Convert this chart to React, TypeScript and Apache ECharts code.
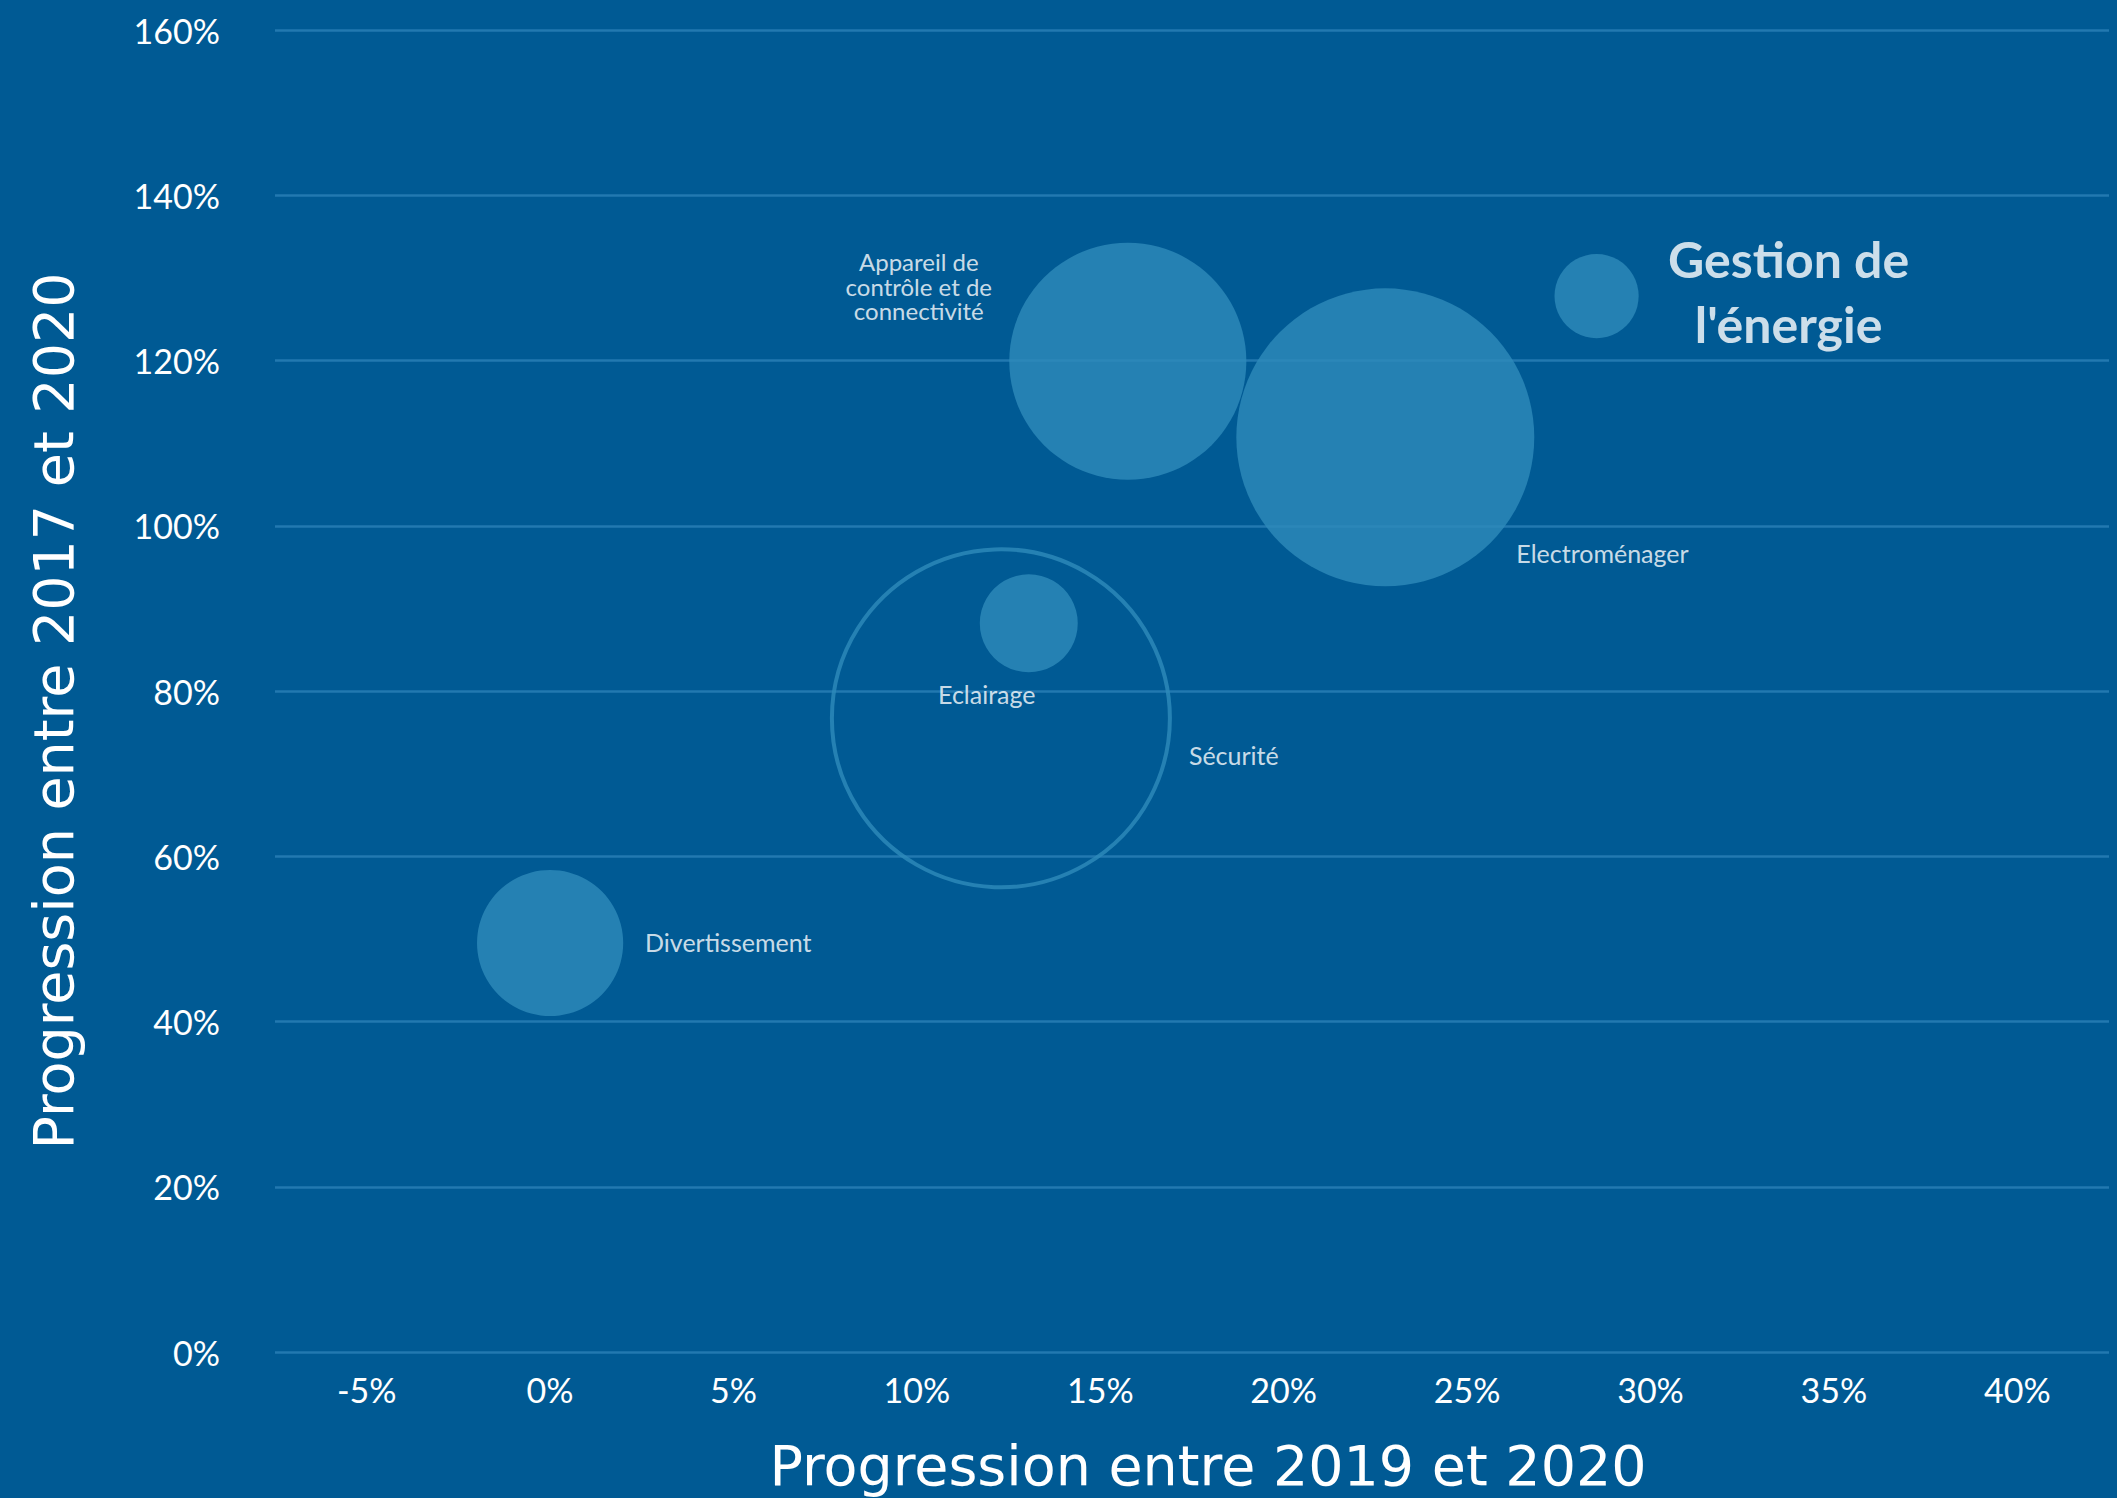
import React, { useEffect, useRef } from "react";
import * as echarts from "echarts";

// ---- Data ----
const categories = [
  "Divertissement",
  "Eclairage",
  "Sécurité",
  "Appareil de contrôle et de connectivité",
  "Electroménager",
  "Gestion de l'énergie",
];
// Progression entre 2019 et 2020 (x)
const growth2019to2020 = [0.0, 0.1305, 0.1229, 0.1575, 0.2277, 0.2853];
// Progression entre 2017 et 2020 (y)
const growth2017to2020 = [0.495, 0.882, 0.767, 1.199, 1.107, 1.278];
// Bubble size (relative market weight)
const bubbleSizes = [18.7, 8.4, 100, 49.2, 77.7, 6.2];
// Label texts as displayed
const labelTexts = [
  "Divertissement",
  "Eclairage",
  "Sécurité",
  "Appareil de\ncontrôle et de\nconnectivité",
  "Electroménager",
  "Gestion de\nl'énergie",
];
const xAxisTitle = "Progression entre 2019 et 2020";
const yAxisTitle = "Progression entre 2017 et 2020";

// ---- Styles ----
const BG = "#005A94";
const BUBBLE = "#2E8BBA";
const GRID = "#2279B0";
const MAX_R = 169;
const FONT = "Lato";

const labelStyles: any[] = [
  { align: "left", offset: [95, -1] },
  { align: "center", offset: [-42, 71] },
  { align: "left", offset: [188, 37] },
  { align: "center", offset: [-209, -75], fontSize: 24, lineHeight: 24.5 },
  { align: "left", offset: [131, 116] },
  { align: "center", offset: [192, -5], fontSize: 50, fontWeight: "bold", lineHeight: 65 },
];

export default function App() {
  const ref = useRef<HTMLDivElement>(null);

  useEffect(() => {
    document.body.style.margin = "0";
    document.body.style.background = BG;
    document.documentElement.style.background = BG;
    const chart = echarts.init(ref.current!, null, { renderer: "svg" });
    const maxSize = Math.max(...bubbleSizes);

    const data = categories.map((name, i) => {
      const hollow = name === "Sécurité";
      const ls = labelStyles[i];
      return {
        name,
        value: [growth2019to2020[i], growth2017to2020[i], bubbleSizes[i]],
        itemStyle: hollow
          ? { color: "rgba(0,0,0,0)", borderColor: BUBBLE, borderWidth: 4 }
          : { color: BUBBLE, borderWidth: 0 },
        label: {
          show: true,
          position: "inside",
          formatter: labelTexts[i],
          color: "#FFFFFF",
          fontFamily: FONT,
          fontSize: ls.fontSize ?? 25,
          fontWeight: ls.fontWeight ?? "normal",
          lineHeight: ls.lineHeight ?? 30,
          align: ls.align,
          verticalAlign: "middle",
          offset: ls.offset,
        },
      };
    });

    chart.setOption({
      animation: false,
      backgroundColor: BG,
      grid: { left: 275, right: 8, top: 30, bottom: 123, containLabel: false },
      xAxis: {
        type: "value",
        min: -0.075,
        max: 0.425,
        interval: 0.025,
        axisLine: { show: false },
        axisTick: { show: false },
        splitLine: { show: false },
        axisLabel: {
          color: "#FFFFFF",
          fontFamily: FONT,
          fontSize: 34,
          margin: 20,
          showMinLabel: true,
          showMaxLabel: true,
          formatter: (v: number) => {
            const p = Math.round(v * 1000) / 10;
            return Math.abs(p % 5) < 1e-6 ? `${p}%` : "";
          },
        },
        name: xAxisTitle,
        nameLocation: "middle",
        nameGap: 85,
        nameTextStyle: {
          color: "#FFFFFF",
          fontFamily: "DejaVu Sans",
          fontSize: 55.5,
          padding: [0, 0, 0, 32],
        },
      },
      yAxis: {
        type: "value",
        min: 0,
        max: 1.6,
        interval: 0.2,
        axisLine: { show: false },
        axisTick: { show: false },
        splitLine: { show: true, lineStyle: { color: GRID, width: 2.5 } },
        axisLabel: {
          color: "#FFFFFF",
          fontFamily: FONT,
          fontSize: 34,
          margin: 55,
          formatter: (v: number) => `${Math.round(v * 100)}%`,
        },
        name: yAxisTitle,
        nameLocation: "middle",
        nameGap: 194,
        nameTextStyle: {
          color: "#FFFFFF",
          fontFamily: "DejaVu Sans",
          fontSize: 55.5,
          padding: [0, 40, 0, 0],
        },
      },
      series: [
        {
          type: "scatter",
          data,
          symbol: "circle",
          symbolSize: (val: number[]) => 2 * MAX_R * Math.sqrt(val[2] / maxSize),
          emphasis: { disabled: true },
        },
      ],
    });

    return () => chart.dispose();
  }, []);

  return (
    <div
      ref={ref}
      style={{ position: "fixed", left: 0, top: 0, width: 2117, height: 1498 }}
    />
  );
}
